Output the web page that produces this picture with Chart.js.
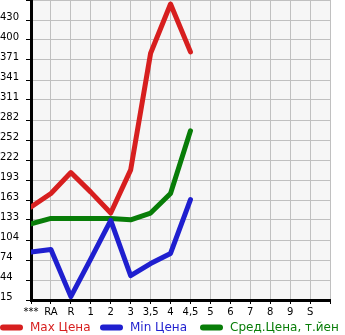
<!DOCTYPE html>
<html>
<head>
<meta charset="utf-8">
<script src="https://cdn.jsdelivr.net/npm/chart.js@4"></script>
<style>
html,body{margin:0;padding:0;background:#fff;}
#wrap{width:345px;height:335px;position:relative;}
</style>
</head>
<body>
<div id="wrap"><canvas id="c" width="345" height="335"></canvas></div>
<script>
const categories = ['***','RA','R','1','2','3','3,5','4','4,5','5','6','7','8','9','S',''];
const yTickLabels = ['15','44','74','104','133','163','193','222','252','282','311','341','371','400','430',''];
const seriesNames = ['Max Цена','Min Цена','Сред.Цена, т.йен'];
const maxPrice = [153, 173, 204, 175, 144, 208, 381, 454, 383, null, null, null, null, null, null];
const minPrice = [86, 90, 20, 76, 133, 51, 69, 84, 164, null, null, null, null, null, null];
const avgPrice = [128, 136, 136, 136, 136, 134, 144, 173, 266, null, null, null, null, null, null];
const yMin = 15, yMax = 460;

const colors = ['#d71f1f', '#1f1fcf', '#087d08'];
const font = "'DejaVu Sans', sans-serif";

function toPoints(arr){ return arr.map((v,i)=>({x:i, y:v})); }

const bgPlugin = {
  id:'bg',
  beforeDraw(chart){
    const {ctx, chartArea:a} = chart;
    ctx.save(); ctx.fillStyle='#f6f6f6';
    ctx.fillRect(a.left, a.top, a.right-a.left, a.bottom-a.top);
    ctx.restore();
  }
};
const legendPlugin = {
  id:'customLegend',
  afterDraw(chart){
    const ctx = chart.ctx;
    ctx.save();
    ctx.font = '12px ' + font;
    ctx.textBaseline = 'middle';
    const y = 327.5;
    const starts = [30, 130, 230];
    chart.data.datasets.forEach((ds,i)=>{
      const tx = starts[i];
      ctx.strokeStyle = ds.borderColor; ctx.lineWidth = 6; ctx.lineCap='round';
      ctx.beginPath(); ctx.moveTo(tx-27, y); ctx.lineTo(tx-10, y); ctx.stroke();
      ctx.fillStyle = ds.borderColor;
      ctx.fillText(ds.label, tx, y);
    });
    ctx.restore();
  }
};

const mk = (label, data, c) => ({
  label, data: toPoints(data), borderColor:c, backgroundColor:c,
  borderWidth:5, pointRadius:0, borderCapStyle:'round', borderJoinStyle:'round',
  spanGaps:false, tension:0
});

new Chart(document.getElementById('c'), {
  type:'line',
  data:{ datasets:[ mk(seriesNames[0], maxPrice, colors[0]), mk(seriesNames[1], minPrice, colors[1]), mk(seriesNames[2], avgPrice, colors[2]) ] },
  options:{
    responsive:false, animation:false, devicePixelRatio:1,
    layout:{padding:{left:0, right:15, top:0, bottom:13}},
    plugins:{legend:{display:false}, tooltip:{enabled:false}},
    scales:{
      x:{
        type:'linear', min:0, max:15,
        afterBuildTicks(s){ s.ticks = categories.map((c,i)=>({value:i})); },
        afterFit(s){ s.height = 22; s.paddingLeft = 0; s.paddingRight = 0; },
        grid:{color:'#c0c0c0', lineWidth:1, tickLength:4, tickColor:'#000', drawTicks:true},
        border:{color:'#000', width:3},
        ticks:{autoSkip:false, maxRotation:0, padding:2, color:'#000', font:{family:font, size:10},
          callback:(v,i)=>categories[i]}
      },
      y:{
        type:'linear', min:yMin, max:yMax,
        afterBuildTicks(s){ s.ticks = yTickLabels.map((t,i)=>({value: yMin + i*(yMax-yMin)/15})); },
        afterFit(s){ s.width = 31; s.paddingTop = 0; s.paddingBottom = 0; },
        grid:{color:'#c0c0c0', lineWidth:1, tickLength:5, tickColor:'#000'},
        border:{color:'#000', width:3},
        ticks:{autoSkip:false, crossAlign:'far', padding:2, labelOffset:-3, color:'#000', font:{family:font, size:10},
          callback:(v,i)=>yTickLabels[i]}
      }
    }
  },
  plugins:[bgPlugin, legendPlugin]
});
</script>
</body>
</html>
